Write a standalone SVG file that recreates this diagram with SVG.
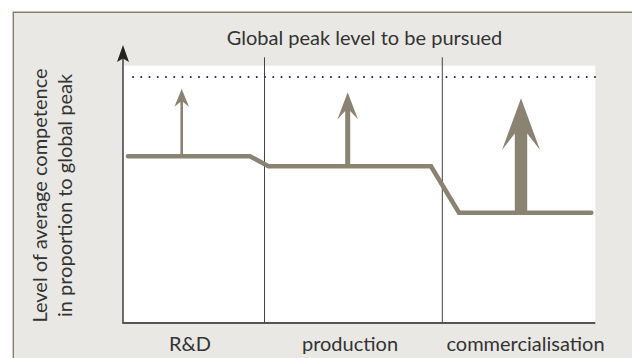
<svg xmlns="http://www.w3.org/2000/svg" width="632" height="358" viewBox="0 0 632 358">
<style>
  .lbl { font-family: Lato, "Liberation Sans", sans-serif; font-size: 20px; fill: #333333; }
  .level { fill: none; stroke: #8b8372; stroke-width: 4.6; stroke-linecap: round; stroke-linejoin: miter; }
  .arrow { fill: #8b8372; }
  .divider { stroke: #444444; stroke-width: 1; }
</style>
<rect x="0" y="0" width="632" height="358" fill="#ffffff"/>
<g id="panel">
  <rect x="13.3" y="12.3" width="630" height="360" fill="#eae8e4"/>
  <path d="M13.3,358 L13.3,12.3 L632,12.3" fill="none" stroke="#857e6e" stroke-width="1.4"/>
  <rect x="123" y="65.7" width="472.3" height="257.3" fill="#ffffff"/>
</g>
<g id="title">
  <text class="lbl" x="364.5" y="44.5" text-anchor="middle">Global peak level to be pursued</text>
</g>
<g id="peak-line">
  <line x1="133" y1="77" x2="596" y2="77" stroke="#222222" stroke-width="2" stroke-linecap="round" stroke-dasharray="0 8.25"/>
</g>
<g id="axes">
  <line x1="123" y1="323" x2="123" y2="56" stroke="#333333" stroke-width="1.4"/>
  <polygon points="123,45 129,62 123,58.5 117,62" fill="#222222"/>
  <line x1="122.3" y1="323" x2="595.3" y2="323" stroke="#555555" stroke-width="2"/>
  <line class="divider" x1="264.5" y1="57.3" x2="264.5" y2="323"/>
  <line class="divider" x1="442.3" y1="57.3" x2="442.3" y2="323"/>
</g>
<g id="y-axis-label">
  <text class="lbl" transform="translate(47,195.5) rotate(-90)" text-anchor="middle">Level of average competence</text>
  <text class="lbl" transform="translate(72,195.5) rotate(-90)" text-anchor="middle">in proportion to global peak</text>
</g>
<g id="stage-rd">
  <text class="lbl" x="190" y="350.5" text-anchor="middle">R&amp;D</text>
</g>
<g id="stage-production">
  <text class="lbl" x="350" y="350.5" text-anchor="middle">production</text>
</g>
<g id="stage-commercialisation">
  <text class="lbl" x="525.5" y="350.5" text-anchor="middle">commercialisation</text>
</g>
<g id="connectors">
  <path class="level" d="M128,156.3 L250,156.3 L268.5,166.2 L431,166.2 L459,212.8 L591.3,212.8"/>
  <polygon class="arrow" points="181.7,89 189,106.7 183,102 183,156.3 180.4,156.3 180.4,102 174.4,106.7"/>
  <polygon class="arrow" points="347.7,92.3 357.9,119.3 350.2,111 350.2,166.2 345.2,166.2 345.2,111 337.5,119.3"/>
  <polygon class="arrow" points="521,98.3 540,150 527.2,133.5 527.2,212.8 514.8,212.8 514.8,133.5 502,150"/>
</g>
</svg>
